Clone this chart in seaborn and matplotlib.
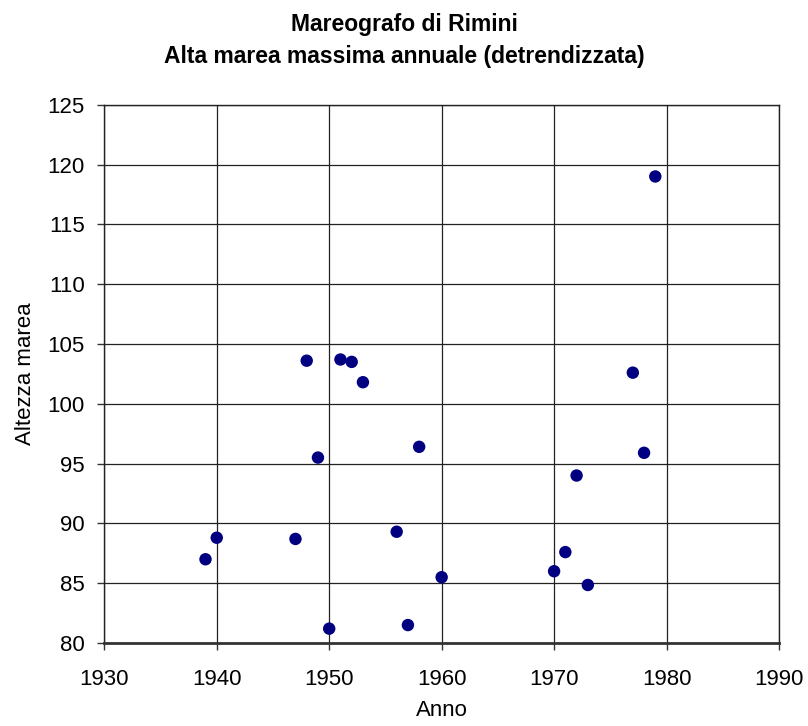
import pandas as pd
import matplotlib
matplotlib.use("Agg")
import matplotlib.pyplot as plt
import seaborn as sns

# Annual maximum high tide (detrended), Rimini tide gauge
anni = [1939, 1940, 1947, 1948, 1949, 1950, 1951, 1952, 1953, 1956,
        1957, 1958, 1960, 1970, 1971, 1972, 1973, 1977, 1978, 1979]
altezza = [87.0, 88.8, 88.7, 103.6, 95.5, 81.2, 103.7, 103.5, 101.8, 89.3,
           81.5, 96.4, 85.5, 86.0, 87.6, 94.0, 84.85, 102.6, 95.9, 119.0]

x_ticks = [1930, 1940, 1950, 1960, 1970, 1980, 1990]
y_ticks = [80, 85, 90, 95, 100, 105, 110, 115, 120, 125]

df = pd.DataFrame({'Anno': anni, 'Altezza marea': altezza})

sns.set_style("white")
plt.rcParams['font.family'] = ['Liberation Sans', 'DejaVu Sans']
plt.rcParams['text.color'] = 'black'
plt.rcParams['axes.labelcolor'] = 'black'
plt.rcParams['xtick.color'] = 'black'
plt.rcParams['ytick.color'] = 'black'

fig = plt.figure(figsize=(8.08, 7.26), dpi=100)
ax = fig.add_axes([104.3 / 808, 1 - 643 / 726, (779 - 104.3) / 808, (643 - 104.7) / 726])

sns.scatterplot(data=df, x='Anno', y='Altezza marea', ax=ax,
                color='#000080', s=80, edgecolor='none', zorder=3)

ax.set_xlim(1930, 1990)
ax.set_ylim(80, 125)
ax.set_xticks(x_ticks)
ax.set_yticks(y_ticks)
ax.grid(True, color='#222222', linewidth=0.9)
ax.set_axisbelow(True)

for side in ['left', 'top', 'right']:
    ax.spines[side].set_color('#222222')
    ax.spines[side].set_linewidth(1.0)
ax.spines['bottom'].set_color('#333333')
ax.spines['bottom'].set_linewidth(2.0)

ax.tick_params(axis='both', direction='out', length=5, width=1, color='#333333',
               labelsize=16, pad=9, bottom=True, left=True)
ax.tick_params(axis='x', pad=14)
ax.set_xlabel('Anno', fontsize=16, labelpad=7)
ax.set_ylabel('Altezza marea', fontsize=16, labelpad=8)

fig.text(0.5, 1 - 25 / 726, 'Mareografo di Rimini', ha='center', va='center',
         fontsize=16.5, fontweight='bold')
fig.text(0.5, 1 - 56 / 726, 'Alta marea massima annuale (detrendizzata)', ha='center',
         va='center', fontsize=16.5, fontweight='bold')

fig.savefig('out.png', dpi=100)
